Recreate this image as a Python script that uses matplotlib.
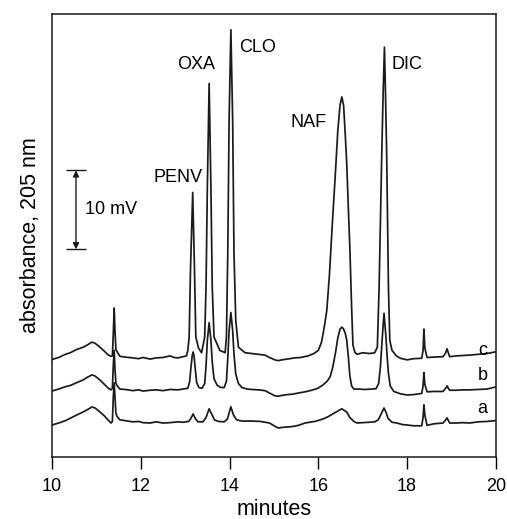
"""HPLC chromatograms of five penicillins (traces a, b, c) at 205 nm."""

import matplotlib

matplotlib.use("Agg")
import matplotlib.pyplot as plt

plt.rcParams["font.family"] = ["Liberation Sans", "DejaVu Sans"]

LINE_COLOR = "#1a1a1a"

# retention time (min) / signal (mV)
a_time = [10.00, 10.15, 10.30, 10.41, 10.55, 10.70, 10.80, 10.90, 10.97, 11.08,
          11.18, 11.26, 11.33, 11.36, 11.38, 11.40, 11.42, 11.44, 11.47, 11.53,
          11.65, 11.82, 11.95, 12.05, 12.21, 12.35, 12.50, 12.66, 12.84, 12.95,
          13.08, 13.13, 13.18, 13.23, 13.29, 13.40, 13.47, 13.54, 13.60, 13.66,
          13.75, 13.88, 13.95, 14.03, 14.09, 14.16, 14.28, 14.50, 14.70, 14.90,
          15.02, 15.10, 15.20, 15.41, 15.55, 15.70, 15.92, 16.10, 16.22, 16.37,
          16.53, 16.64, 16.71, 16.80, 16.87, 17.00, 17.15, 17.27, 17.35, 17.42,
          17.48, 17.53, 17.57, 17.66, 17.77, 17.90, 18.00, 18.15, 18.33, 18.36,
          18.38, 18.40, 18.45, 18.60, 18.81, 18.87, 18.90, 18.94, 18.96, 19.10,
          19.25, 19.41, 19.60, 19.80, 19.98]
a_mv = [4.05, 4.3, 4.6, 4.9, 5.3, 5.7, 6.0, 6.33, 6.2, 5.7,
        5.2, 4.7, 4.3, 4.5, 7.5, 9.4, 7.5, 5.5, 5.1, 4.7,
        4.6, 4.45, 4.5, 4.35, 4.3, 4.45, 4.3, 4.35, 4.45, 4.4,
        4.5, 4.9, 5.45, 4.85, 4.45, 4.45, 5.0, 6.1, 5.4, 4.7,
        4.5, 4.45, 4.8, 6.35, 5.3, 4.7, 4.55, 4.55, 4.5, 4.3,
        3.9, 3.67, 3.75, 3.85, 4.0, 4.3, 4.5, 4.8, 5.1, 5.6,
        6.1, 5.7, 5.0, 4.5, 4.3, 4.35, 4.4, 4.45, 4.7, 5.5,
        6.2, 5.6, 4.9, 4.4, 4.3, 4.1, 4.05, 3.95, 3.95, 5.0,
        6.6, 5.3, 4.0, 4.2, 4.3, 4.7, 4.95, 4.5, 4.3, 4.3,
        4.35, 4.3, 4.45, 4.5, 4.6]

b_time = [10.00, 10.15, 10.30, 10.41, 10.55, 10.70, 10.80, 10.90, 10.97, 11.08,
          11.18, 11.26, 11.33, 11.36, 11.38, 11.40, 11.42, 11.44, 11.47, 11.53,
          11.65, 11.82, 11.95, 12.05, 12.21, 12.35, 12.50, 12.66, 12.84, 12.95,
          13.06, 13.10, 13.13, 13.16, 13.18, 13.20, 13.23, 13.26, 13.31, 13.38,
          13.44, 13.47, 13.50, 13.54, 13.58, 13.61, 13.65, 13.72, 13.80, 13.88,
          13.93, 13.96, 13.99, 14.03, 14.07, 14.10, 14.14, 14.20, 14.28, 14.40,
          14.50, 14.65, 14.80, 14.90, 15.02, 15.10, 15.18, 15.30, 15.41, 15.55,
          15.70, 15.85, 15.99, 16.10, 16.20, 16.27, 16.33, 16.39, 16.44, 16.49,
          16.53, 16.57, 16.61, 16.64, 16.68, 16.71, 16.75, 16.80, 16.90, 17.05,
          17.20, 17.30, 17.36, 17.40, 17.44, 17.48, 17.52, 17.55, 17.58, 17.62,
          17.70, 17.85, 18.00, 18.15, 18.33, 18.36, 18.38, 18.40, 18.45, 18.60,
          18.81, 18.87, 18.90, 18.94, 18.96, 19.10, 19.25, 19.41, 19.60, 19.80,
          19.98]
b_mv = [8.35, 8.6, 8.9, 9.05, 9.4, 9.75, 10.1, 10.4, 10.25, 9.75,
        9.2, 8.75, 8.5, 8.7, 11.5, 13.5, 11.0, 9.3, 9.0, 8.6,
        8.55, 8.4, 8.5, 8.35, 8.45, 8.5, 8.4, 8.55, 8.5, 8.6,
        8.7, 9.5, 11.3, 12.9, 13.3, 12.8, 11.0, 9.4, 8.8, 8.7,
        9.3, 11.5, 14.8, 17.0, 14.8, 12.0, 9.9, 9.1, 8.8, 8.8,
        9.6, 12.5, 16.0, 18.3, 16.0, 13.0, 10.5, 9.3, 8.8, 8.6,
        8.55, 8.5, 8.4, 8.1, 7.75, 7.7, 7.8, 7.9, 7.95, 8.1,
        8.25, 8.45, 8.7, 9.1, 9.6, 10.2, 11.5, 13.3, 15.1, 16.2,
        16.45, 16.2, 15.6, 14.8, 12.5, 10.3, 9.0, 8.6, 8.6, 8.55,
        8.6, 8.65, 9.3, 11.5, 15.0, 18.2, 15.5, 12.8, 10.6, 9.0,
        8.3, 8.0, 7.85, 7.9, 8.05, 9.0, 10.7, 9.2, 8.25, 8.3,
        8.3, 8.7, 9.0, 8.6, 8.45, 8.45, 8.5, 8.5, 8.55, 8.6,
        8.85]

c_time = [10.00, 10.15, 10.30, 10.41, 10.55, 10.70, 10.80, 10.90, 10.97, 11.08,
          11.18, 11.26, 11.33, 11.36, 11.38, 11.40, 11.42, 11.44, 11.47, 11.53,
          11.65, 11.82, 11.95, 12.05, 12.21, 12.35, 12.50, 12.66, 12.75, 12.84,
          12.95, 13.03, 13.06, 13.09, 13.12, 13.17, 13.21, 13.24, 13.30, 13.37,
          13.44, 13.47, 13.50, 13.54, 13.58, 13.61, 13.65, 13.78, 13.90, 13.93,
          13.96, 13.99, 14.03, 14.07, 14.10, 14.14, 14.20, 14.35, 14.50, 14.65,
          14.80, 14.90, 15.02, 15.10, 15.18, 15.30, 15.47, 15.60, 15.77, 15.90,
          16.00, 16.07, 16.13, 16.19, 16.25, 16.31, 16.38, 16.44, 16.49, 16.53,
          16.57, 16.61, 16.64, 16.68, 16.71, 16.75, 16.78, 16.82, 16.87, 17.00,
          17.15, 17.27, 17.33, 17.37, 17.40, 17.43, 17.46, 17.49, 17.51, 17.54,
          17.58, 17.61, 17.66, 17.76, 17.85, 18.00, 18.15, 18.33, 18.36, 18.38,
          18.40, 18.45, 18.60, 18.81, 18.87, 18.90, 18.94, 18.96, 19.10, 19.25,
          19.41, 19.60, 19.80, 19.98]
c_mv = [12.35, 12.6, 13.0, 13.2, 13.6, 13.9, 14.2, 14.55, 14.4, 13.9,
        13.4, 12.95, 12.75, 12.8, 15.5, 18.86, 15.8, 13.6, 13.3, 12.75,
        12.65, 12.55, 12.45, 12.6, 12.4, 12.55, 12.6, 12.8, 12.6, 12.55,
        12.7, 12.8, 13.5, 15.2, 23.7, 33.5, 23.7, 15.2, 13.8, 13.2,
        15.2, 21.5, 34.2, 47.3, 34.2, 21.5, 15.2, 13.5, 13.2, 15.2,
        25.8, 42.7, 54.1, 42.7, 25.8, 17.3, 13.9, 13.2, 13.1, 13.0,
        12.9, 12.6, 12.3, 12.2, 12.3, 12.4, 12.55, 12.6, 12.8, 13.1,
        13.5, 14.5, 16.3, 18.5, 23.0, 29.0, 35.5, 41.4, 44.6, 45.6,
        44.5, 40.5, 37.2, 31.0, 26.6, 19.0, 14.2, 13.3, 13.0, 13.2,
        13.1, 13.2, 13.9, 21.5, 30.0, 38.5, 46.0, 51.9, 47.0, 38.5,
        21.5, 14.8, 13.5, 12.8, 12.5, 12.3, 12.45, 12.5, 13.5, 16.2,
        13.8, 12.6, 12.65, 12.7, 13.2, 13.7, 13.0, 12.7, 12.8, 12.85,
        12.9, 13.0, 13.1, 13.3]

# peak names and where their labels sit (min, mV)
peak_names = ["PENV", "OXA", "CLO", "NAF", "DIC"]
peak_label_x = [12.84, 13.24, 14.21, 15.79, 17.66]
peak_label_y = [35.4, 49.7, 51.8, 42.4, 49.7]
peak_label_ha = ["center", "center", "left", "center", "left"]

trace_names = ["a", "b", "c"]
trace_label_y = [6.2, 10.3, 13.5]

x_ticks = [10, 12, 14, 16, 18, 20]
scale_bar_mv = 10


def main() -> None:
    fig = plt.figure(figsize=(5.07, 5.19), dpi=100)
    ax = fig.add_axes([0.1026, 0.1195, 0.8754, 0.8535])

    for t, s in [(a_time, a_mv), (b_time, b_mv), (c_time, c_mv)]:
        ax.plot(t, s, color=LINE_COLOR, linewidth=1.25, solid_joinstyle="round")

    for name, x, y, ha in zip(peak_names, peak_label_x, peak_label_y, peak_label_ha):
        ax.text(x, y, name, fontsize=13, ha=ha, va="center")

    for name, y in zip(trace_names, trace_label_y):
        ax.text(19.70, y, name, fontsize=13, ha="center", va="center")

    # 10 mV scale bar
    bar_x, bar_bottom = 10.54, 26.3
    bar_top = bar_bottom + scale_bar_mv
    ax.annotate(
        "", xy=(bar_x, bar_top), xytext=(bar_x, bar_bottom),
        arrowprops=dict(arrowstyle="<|-|>", color=LINE_COLOR, lw=1.0,
                        mutation_scale=9, shrinkA=0, shrinkB=0),
    )
    ax.hlines([bar_bottom, bar_top], bar_x - 0.22, bar_x + 0.22,
              color=LINE_COLOR, linewidth=1.0)
    ax.text(bar_x + 0.2, (bar_bottom + bar_top) / 2, f"{scale_bar_mv} mV",
            fontsize=13, ha="left", va="center")

    ax.set_xlim(10, 20)
    ax.set_ylim(0, 56.1)
    ax.set_xticks(x_ticks)
    ax.set_yticks([])
    ax.tick_params(axis="x", direction="out", length=8.5, width=1.0,
                   labelsize=13, pad=6.5)
    ax.set_xlabel("minutes", fontsize=15.5, labelpad=3)
    ax.set_ylabel("absorbance, 205 nm", fontsize=15.5, labelpad=8)
    for spine in ax.spines.values():
        spine.set_linewidth(1.1)
        spine.set_color(LINE_COLOR)

    fig.savefig("out.png", dpi=100)
    plt.close(fig)


if __name__ == "__main__":
    main()
